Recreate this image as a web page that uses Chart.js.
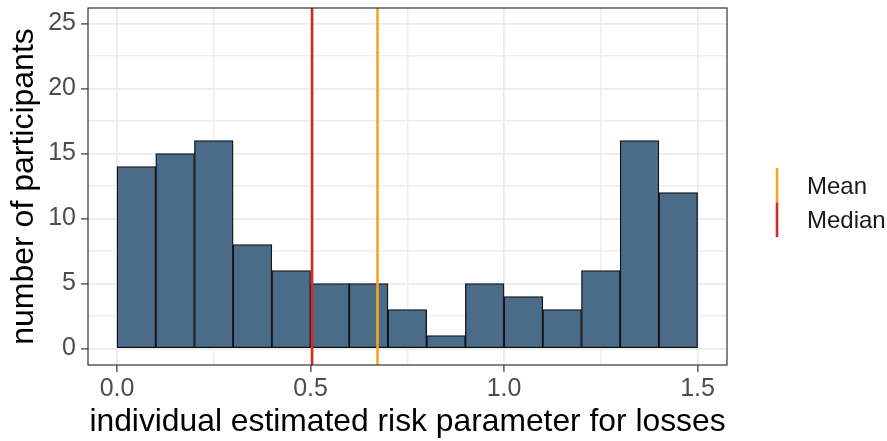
<!DOCTYPE html>
<html>
<head>
<meta charset="utf-8">
<title>Risk parameter histogram</title>
<script src="https://cdn.jsdelivr.net/npm/chart.js@4/dist/chart.umd.min.js"></script>
<style>
  html, body { margin: 0; padding: 0; background: #ffffff; }
  #wrap { width: 887px; height: 441px; }
</style>
</head>
<body>
<div id="wrap"><canvas id="hist" width="887" height="441"></canvas></div>
<script>
'use strict';

// ── Data ───────────────────────────────────────────────────────────────────
const BIN_CENTERS = [0.05, 0.15, 0.25, 0.35, 0.45, 0.55, 0.65, 0.75, 0.85, 0.95, 1.05, 1.15, 1.25, 1.35, 1.45];
const COUNTS      = [14, 15, 16, 8, 6, 5, 5, 3, 1, 5, 4, 3, 6, 16, 12];

const X_MAJOR        = [0, 0.5, 1.0, 1.5];
const X_MAJOR_LABELS = ['0.0', '0.5', '1.0', '1.5'];
const X_MINOR        = [0.25, 0.75, 1.25];
const Y_MAJOR        = [0, 5, 10, 15, 20, 25];
const Y_MAJOR_LABELS = ['0', '5', '10', '15', '20', '25'];
const Y_MINOR        = [2.5, 7.5, 12.5, 17.5, 22.5];

const REF_NAMES  = ['Mean', 'Median'];
const REF_VALUES = [0.673, 0.504];

const X_RANGE = [-0.075, 1.576];
const Y_RANGE = [-1.27, 26.2];

// ── Style ──────────────────────────────────────────────────────────────────
const FONT       = "'Liberation Sans', Arial, sans-serif";
const BAR_FILL   = '#4b6c89';
const BAR_EDGE   = '#111111';
const REF_COLORS = ['#f5a623', '#d42a2a'];
const GRID_MAJOR = '#ebebeb';
const GRID_MINOR = '#eeeeee';
const PANEL_EDGE = '#333333';
const TICK_TEXT  = '#4d4d4d';

function isIn(list, v) {
  return list.some(function (m) { return Math.abs(m - v) < 1e-9; });
}

function labelFor(majors, labels, v) {
  for (let i = 0; i < majors.length; i++) {
    if (Math.abs(majors[i] - v) < 1e-9) return labels[i];
  }
  return '';
}

// grid contexts without a tick (e.g. option resolution) count as major
function major(majors, c) {
  return !c || !c.tick || isIn(majors, c.tick.value);
}

function gridStyle(majors) {
  return {
    offset: false,
    color:     function (c) { return major(majors, c) ? GRID_MAJOR : GRID_MINOR; },
    lineWidth: function (c) { return major(majors, c) ? 1.8 : 1.5; },
    tickColor: function (c) { return major(majors, c) ? PANEL_EDGE : 'rgba(0,0,0,0)'; },
    tickWidth: 1.2,
    tickLength: 7,
    drawTicks: true,
  };
}

// Mean / median reference lines, drawn over the bars
const refLines = {
  id: 'refLines',
  afterDatasetsDraw(chart) {
    const { ctx, chartArea, scales } = chart;
    ctx.save();
    ctx.lineWidth = 2.6;
    for (let i = REF_VALUES.length - 1; i >= 0; i--) {
      const px = scales.x.getPixelForValue(REF_VALUES[i]);
      ctx.strokeStyle = REF_COLORS[i];
      ctx.beginPath();
      ctx.moveTo(px, chartArea.top);
      ctx.lineTo(px, chartArea.bottom);
      ctx.stroke();
    }
    ctx.restore();
  },
};

// Panel border + legend (ggplot-ish)
const panelAndLegend = {
  id: 'panelAndLegend',
  afterDraw(chart) {
    const { ctx, chartArea } = chart;
    ctx.save();
    ctx.strokeStyle = PANEL_EDGE;
    ctx.lineWidth = 1.2;
    ctx.strokeRect(chartArea.left, chartArea.top,
                   chartArea.right - chartArea.left, chartArea.bottom - chartArea.top);

    const keyX  = chartArea.right + 50;
    const keyH  = 34.5;
    const keyY0 = 168;
    ctx.font = '24px ' + FONT;
    ctx.textAlign = 'left';
    ctx.textBaseline = 'middle';
    REF_NAMES.forEach(function (name, i) {
      const y0 = keyY0 + i * keyH;
      ctx.strokeStyle = REF_COLORS[i];
      ctx.lineWidth = 2.6;
      ctx.beginPath();
      ctx.moveTo(keyX, y0);
      ctx.lineTo(keyX, y0 + keyH);
      ctx.stroke();
      ctx.fillStyle = '#1a1a1a';
      ctx.fillText(name, keyX + 30, y0 + keyH / 2 + 2);
    });
    ctx.restore();
  },
};

new Chart(document.getElementById('hist'), {
  type: 'bar',
  data: {
    datasets: [{
      label: 'count',
      data: BIN_CENTERS.map(function (x, i) { return { x: x, y: COUNTS[i] }; }),
      backgroundColor: BAR_FILL,
      borderColor: BAR_EDGE,
      borderWidth: 1.3,
      borderSkipped: false,
      barPercentage: 1,
      categoryPercentage: 1,
    }],
  },
  options: {
    responsive: false,
    animation: false,
    devicePixelRatio: 1,
    layout: { padding: { left: 0, top: 8, right: 160, bottom: 0 } },
    plugins: {
      legend: { display: false },
      tooltip: { enabled: false },
    },
    scales: {
      x: {
        type: 'linear',
        min: X_RANGE[0],
        max: X_RANGE[1],
        offset: false,
        afterBuildTicks: function (s) {
          s.ticks = X_MAJOR.concat(X_MINOR).sort(function (a, b) { return a - b; })
            .map(function (v) { return { value: v }; });
        },
        afterFit: function (s) {
          s.height = 76;
          s.paddingLeft = 0; s.paddingRight = 0;
        },
        grid: gridStyle(X_MAJOR),
        border: { display: false },
        ticks: {
          autoSkip: false,
          maxRotation: 0,
          padding: 2,
          color: TICK_TEXT,
          font: { family: FONT, size: 25 },
          callback: function (v) { return labelFor(X_MAJOR, X_MAJOR_LABELS, v); },
        },
        title: {
          display: true,
          text: 'individual estimated risk parameter for losses',
          color: '#000000',
          font: { family: FONT, size: 31.8 },
          padding: { top: 0, bottom: 0 },
        },
      },
      y: {
        type: 'linear',
        min: Y_RANGE[0],
        max: Y_RANGE[1],
        afterBuildTicks: function (s) {
          s.ticks = Y_MAJOR.concat(Y_MINOR).sort(function (a, b) { return a - b; })
            .map(function (v) { return { value: v }; });
        },
        afterFit: function (s) {
          s.width = 88;
          s.paddingTop = 0; s.paddingBottom = 0;
        },
        grid: gridStyle(Y_MAJOR),
        border: { display: false },
        ticks: {
          autoSkip: false,
          padding: 5,
          color: TICK_TEXT,
          font: { family: FONT, size: 25 },
          callback: function (v) { return labelFor(Y_MAJOR, Y_MAJOR_LABELS, v); },
        },
        title: {
          display: true,
          text: 'number of participants',
          color: '#000000',
          font: { family: FONT, size: 32 },
          padding: { top: 5, bottom: 0 },
        },
      },
    },
  },
  plugins: [refLines, panelAndLegend],
});
</script>
</body>
</html>
